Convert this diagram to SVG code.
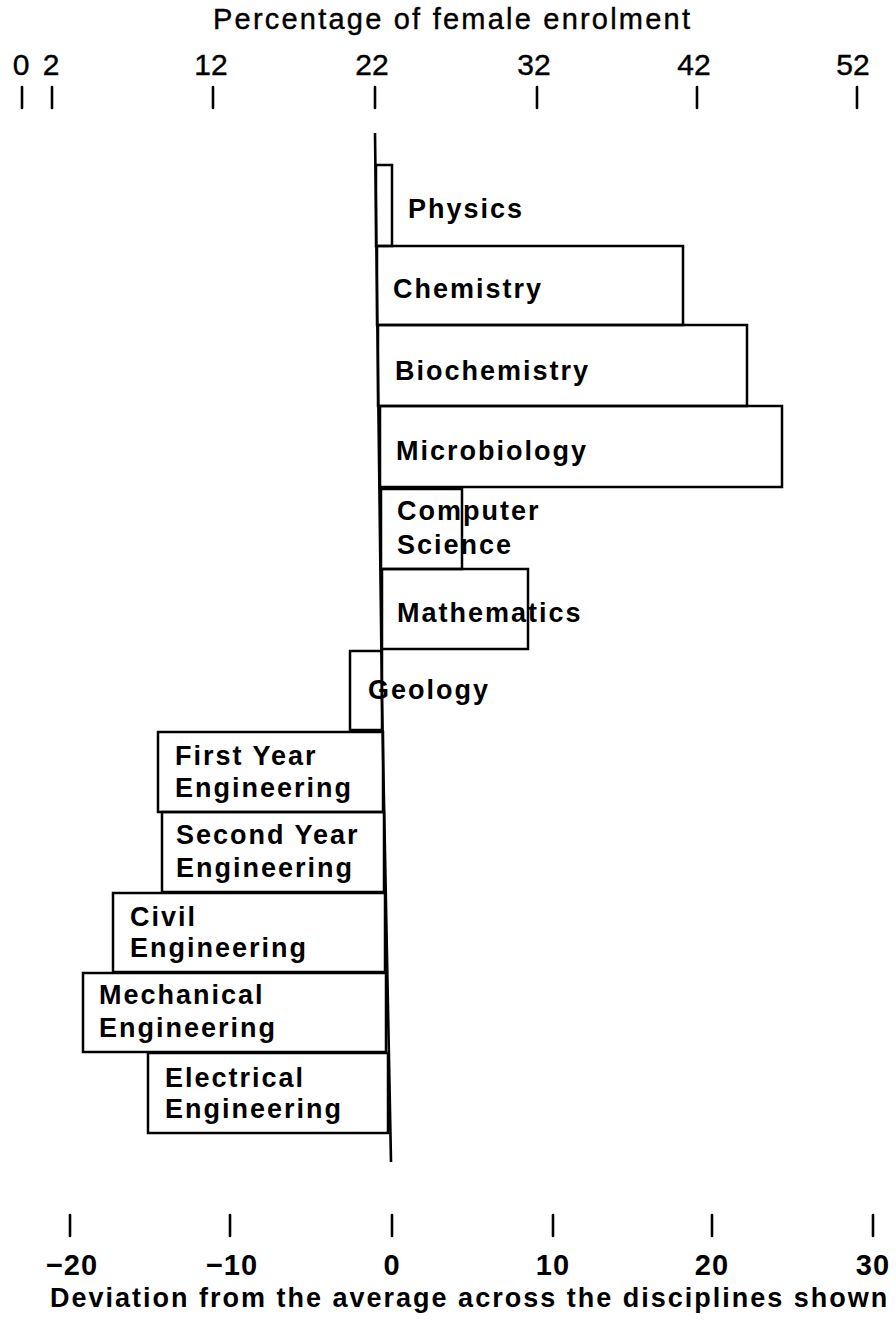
<svg xmlns="http://www.w3.org/2000/svg" width="896" height="1322" viewBox="0 0 896 1322">
<style>
.bar{fill:none;stroke:#000;stroke-width:2.5;stroke-linejoin:miter}
.lbl{font-family:"Liberation Sans",Arial,sans-serif;font-weight:bold;font-size:27px;letter-spacing:2px;fill:#000}
.tick{stroke:#000;stroke-width:2.6;stroke-linecap:round}
.tnum{font-family:"Liberation Sans",Arial,sans-serif;font-size:30px;fill:#000;text-anchor:middle;stroke:#000;stroke-width:0.4}
.bnum{font-family:"Liberation Sans",Arial,sans-serif;font-weight:bold;font-size:29px;letter-spacing:1px;fill:#000;text-anchor:middle}
.ttl{font-family:"Liberation Sans",Arial,sans-serif;font-size:29px;fill:#000;stroke:#000;stroke-width:0.4}
.bttl{font-family:"Liberation Sans",Arial,sans-serif;font-weight:bold;font-size:27px;letter-spacing:2px;fill:#000}
</style>
<rect width="896" height="1322" fill="#fff"/>
<g id="top-axis">
<text class="ttl" x="213" y="29" textLength="477" lengthAdjust="spacing">Percentage of female enrolment</text>
<text class="tnum" x="21" y="75">0</text>
<text class="tnum" x="51" y="75">2</text>
<text class="tnum" x="211" y="75">12</text>
<text class="tnum" x="372" y="75">22</text>
<text class="tnum" x="534" y="75">32</text>
<text class="tnum" x="694" y="75">42</text>
<text class="tnum" x="853" y="75">52</text>
<line class="tick" x1="22" y1="87" x2="22" y2="108"/>
<line class="tick" x1="52" y1="87" x2="52" y2="108"/>
<line class="tick" x1="213" y1="87" x2="213" y2="108"/>
<line class="tick" x1="375" y1="87" x2="375" y2="108"/>
<line class="tick" x1="537" y1="87" x2="537" y2="108"/>
<line class="tick" x1="697" y1="87" x2="697" y2="108"/>
<line class="tick" x1="857" y1="87" x2="857" y2="108"/>
</g>
<g id="physics"><rect class="bar" x="376" y="165" width="16" height="81"/><text class="lbl" x="408" y="218">Physics</text></g>
<g id="chemistry"><rect class="bar" x="377" y="246" width="306" height="79"/><text class="lbl" x="393" y="298">Chemistry</text></g>
<g id="biochemistry"><rect class="bar" x="378" y="325" width="369" height="81"/><text class="lbl" x="395" y="380">Biochemistry</text></g>
<g id="microbiology"><rect class="bar" x="380" y="406" width="402" height="81"/><text class="lbl" x="396" y="460">Microbiology</text></g>
<g id="computer-science"><rect class="bar" x="381" y="489" width="81" height="80"/><text class="lbl" x="397" y="520">Computer</text><text class="lbl" x="397" y="554">Science</text></g>
<g id="mathematics"><rect class="bar" x="382" y="569" width="146" height="80"/><text class="lbl" x="397" y="622">Mathematics</text></g>
<g id="geology"><rect class="bar" x="350" y="651" width="32" height="79"/><text class="lbl" x="368" y="699">Geology</text></g>
<g id="first-year-engineering"><rect class="bar" x="158" y="732" width="225" height="80"/><text class="lbl" x="175" y="765">First Year</text><text class="lbl" x="175" y="797">Engineering</text></g>
<g id="second-year-engineering"><rect class="bar" x="162" y="812" width="222" height="80"/><text class="lbl" x="176" y="844">Second Year</text><text class="lbl" x="176" y="877">Engineering</text></g>
<g id="civil-engineering"><rect class="bar" x="113" y="893" width="272" height="79"/><text class="lbl" x="130" y="926">Civil</text><text class="lbl" x="130" y="957">Engineering</text></g>
<g id="mechanical-engineering"><rect class="bar" x="83" y="973" width="303" height="79"/><text class="lbl" x="99" y="1004">Mechanical</text><text class="lbl" x="99" y="1037">Engineering</text></g>
<g id="electrical-engineering"><rect class="bar" x="148" y="1053" width="240" height="80"/><text class="lbl" x="165" y="1087">Electrical</text><text class="lbl" x="165" y="1118">Engineering</text></g>
<g id="connectors">
<polyline points="375,133 382,700 391,1162" fill="none" stroke="#000" stroke-width="2.6"/>
</g>
<g id="bottom-axis">
<line class="tick" x1="70" y1="1215" x2="70" y2="1236"/>
<line class="tick" x1="230" y1="1215" x2="230" y2="1236"/>
<line class="tick" x1="392" y1="1215" x2="392" y2="1236"/>
<line class="tick" x1="553" y1="1215" x2="553" y2="1236"/>
<line class="tick" x1="712" y1="1215" x2="712" y2="1236"/>
<line class="tick" x1="873" y1="1215" x2="873" y2="1236"/>
<text class="bnum" x="72" y="1275">−20</text>
<text class="bnum" x="232" y="1275">−10</text>
<text class="bnum" x="392" y="1275">0</text>
<text class="bnum" x="553" y="1275">10</text>
<text class="bnum" x="712" y="1275">20</text>
<text class="bnum" x="873" y="1275">30</text>
<text class="bttl" x="50" y="1307">Deviation from the average across the disciplines shown</text>
</g>
</svg>
